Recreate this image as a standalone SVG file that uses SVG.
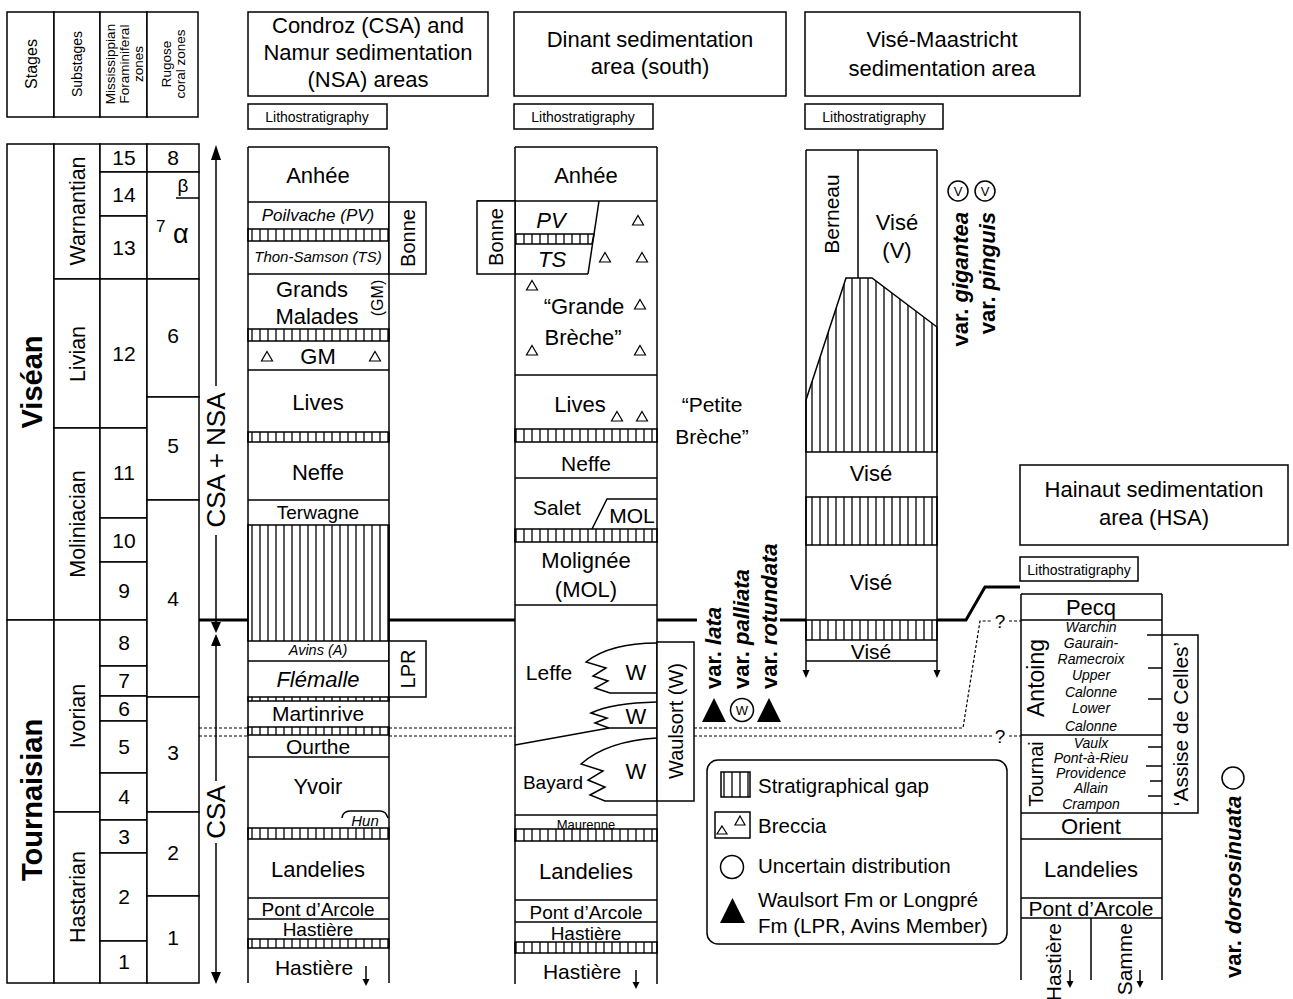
<svg xmlns="http://www.w3.org/2000/svg" width="1293" height="999" viewBox="0 0 1293 999">
<defs>
<pattern id="hp" width="8" height="10" patternUnits="userSpaceOnUse"><line x1="4" y1="-1" x2="4" y2="11" stroke="#000" stroke-width="1.3"/></pattern>
<path id="tri" d="M0,-5.5 L5.5,4 L-5.5,4 Z" fill="none" stroke="#000" stroke-width="1.2"/>
</defs>
<style>
text{font-family:"Liberation Sans",Arial,Helvetica,sans-serif;fill:#000}
.box{fill:#fff;stroke:#000;stroke-width:1.5}
.ln{fill:none;stroke:#000;stroke-width:1.5}
.hat{fill:url(#hp);stroke:#000;stroke-width:1.5}
.c{text-anchor:middle}
.i{font-style:italic}
.bd{font-weight:bold}
.thick{stroke:#000;stroke-width:3;fill:none}
.dash{stroke:#000;stroke-width:1.2;stroke-dasharray:3 2;fill:none}
.ar{fill:#000;stroke:none}
</style>
<rect x="0" y="0" width="1293" height="999" fill="#fff"/>

<g id="left-header">
<rect class="box" x="7" y="12" width="47" height="105"/>
<rect class="box" x="54" y="12" width="46" height="105"/>
<rect class="box" x="100" y="12" width="47" height="105"/>
<rect class="box" x="147" y="12" width="51" height="105"/>
<text class="c" font-size="16" transform="translate(31,64) rotate(-90)" dy=".35em">Stages</text>
<text class="c" font-size="14" transform="translate(77,64) rotate(-90)" dy=".35em">Substages</text>
<text class="c" font-size="13.5" transform="translate(110,64) rotate(-90)" dy=".35em">Mississippian</text>
<text class="c" font-size="13.5" transform="translate(124,64) rotate(-90)" dy=".35em">Foraminiferal</text>
<text class="c" font-size="13.5" transform="translate(138,64) rotate(-90)" dy=".35em">zones</text>
<text class="c" font-size="13.5" transform="translate(166,64) rotate(-90)" dy=".35em">Rugose</text>
<text class="c" font-size="13.5" transform="translate(180,64) rotate(-90)" dy=".35em">coral zones</text>
</g>

<g id="stages">
<rect class="box" x="7" y="144" width="47" height="476"/>
<rect class="box" x="7" y="620" width="47" height="363"/>
<text class="c bd" font-size="29" transform="translate(32,382) rotate(-90)" dy=".35em">Viséan</text>
<text class="c bd" font-size="29" transform="translate(32,800) rotate(-90)" dy=".35em">Tournaisian</text>
</g>

<g id="substages">
<rect class="box" x="54" y="144" width="46" height="135"/>
<rect class="box" x="54" y="279" width="46" height="149"/>
<rect class="box" x="54" y="428" width="46" height="192"/>
<rect class="box" x="54" y="620" width="46" height="192"/>
<rect class="box" x="54" y="812" width="46" height="171"/>
<text class="c" font-size="21.5" transform="translate(77,211) rotate(-90)" dy=".35em">Warnantian</text>
<text class="c" font-size="21.5" transform="translate(77,354) rotate(-90)" dy=".35em">Livian</text>
<text class="c" font-size="21.5" transform="translate(77,524) rotate(-90)" dy=".35em">Moliniacian</text>
<text class="c" font-size="21.5" transform="translate(77,716) rotate(-90)" dy=".35em">Ivorian</text>
<text class="c" font-size="21.5" transform="translate(77,897) rotate(-90)" dy=".35em">Hastarian</text>
</g>

<g id="foram-zones" font-size="21">
<rect class="box" x="100" y="144" width="47" height="28"/>
<rect class="box" x="100" y="172" width="47" height="44"/>
<rect class="box" x="100" y="216" width="47" height="63"/>
<rect class="box" x="100" y="279" width="47" height="149"/>
<rect class="box" x="100" y="428" width="47" height="90"/>
<rect class="box" x="100" y="518" width="47" height="44"/>
<rect class="box" x="100" y="562" width="47" height="58"/>
<rect class="box" x="100" y="620" width="47" height="46"/>
<rect class="box" x="100" y="666" width="47" height="30"/>
<rect class="box" x="100" y="696" width="47" height="25"/>
<rect class="box" x="100" y="721" width="47" height="52"/>
<rect class="box" x="100" y="773" width="47" height="47"/>
<rect class="box" x="100" y="820" width="47" height="33"/>
<rect class="box" x="100" y="853" width="47" height="88"/>
<rect class="box" x="100" y="941" width="47" height="42"/>
<text class="c" x="124" y="165">15</text>
<text class="c" x="124" y="202">14</text>
<text class="c" x="124" y="255">13</text>
<text class="c" x="124" y="361">12</text>
<text class="c" x="124" y="480">11</text>
<text class="c" x="124" y="548">10</text>
<text class="c" x="124" y="598">9</text>
<text class="c" x="124" y="650">8</text>
<text class="c" x="124" y="688">7</text>
<text class="c" x="124" y="716">6</text>
<text class="c" x="124" y="754">5</text>
<text class="c" x="124" y="804">4</text>
<text class="c" x="124" y="844">3</text>
<text class="c" x="124" y="904">2</text>
<text class="c" x="124" y="969">1</text>
</g>

<g id="rugose-zones" font-size="21">
<rect class="box" x="147" y="144" width="52" height="28"/>
<rect class="box" x="147" y="172" width="52" height="107"/>
<rect class="box" x="147" y="279" width="52" height="118"/>
<rect class="box" x="147" y="397" width="52" height="103"/>
<rect class="box" x="147" y="500" width="52" height="197"/>
<rect class="box" x="147" y="697" width="52" height="115"/>
<rect class="box" x="147" y="812" width="52" height="84"/>
<rect class="box" x="147" y="896" width="52" height="87"/>
<line class="ln" x1="176" y1="198" x2="199" y2="198"/>
<text class="c" x="173" y="165">8</text>
<text class="c" x="183" y="192" font-size="19">β</text>
<text x="156" y="232" font-size="17">7</text>
<text x="173" y="243" font-size="27">α</text>
<text class="c" x="173" y="343">6</text>
<text class="c" x="173" y="453">5</text>
<text class="c" x="173" y="606">4</text>
<text class="c" x="173" y="760">3</text>
<text class="c" x="173" y="860">2</text>
<text class="c" x="173" y="945">1</text>
</g>

<g id="area-arrows">
<polygon class="ar" points="216,145 211,160 221,160"/>
<line class="ln" x1="216" y1="158" x2="216" y2="386"/>
<text class="c" font-size="26" transform="translate(216,460) rotate(-90)" dy=".35em">CSA + NSA</text>
<line class="ln" x1="216" y1="535" x2="216" y2="623"/>
<polygon class="ar" points="211,622 221,622 216,633"/>
<polygon class="ar" points="216,634 211,646 221,646"/>
<line class="ln" x1="216" y1="645" x2="216" y2="781"/>
<text class="c" font-size="26" transform="translate(216,812) rotate(-90)" dy=".35em">CSA</text>
<line class="ln" x1="216" y1="843" x2="216" y2="973"/>
<polygon class="ar" points="211,972 221,972 216,984"/>
</g>

<g id="header-condroz">
<rect class="box" x="248" y="12" width="240" height="84"/>
<text class="c" x="368" y="33" font-size="22">Condroz (CSA) and</text>
<text class="c" x="368" y="60" font-size="22">Namur sedimentation</text>
<text class="c" x="368" y="87" font-size="22">(NSA) areas</text>
<rect class="box" x="248" y="104" width="139" height="25"/>
<text class="c" x="317" y="122" font-size="14">Lithostratigraphy</text>
</g>
<g id="header-dinant">
<rect class="box" x="514" y="12" width="272" height="84"/>
<text class="c" x="650" y="47" font-size="22">Dinant sedimentation</text>
<text class="c" x="650" y="74" font-size="22">area (south)</text>
<rect class="box" x="514" y="104" width="139" height="25"/>
<text class="c" x="583" y="122" font-size="14">Lithostratigraphy</text>
</g>
<g id="header-vise">
<rect class="box" x="805" y="12" width="275" height="84"/>
<text class="c" x="942" y="47" font-size="22">Visé-Maastricht</text>
<text class="c" x="942" y="76" font-size="22">sedimentation area</text>
<rect class="box" x="805" y="104" width="138" height="25"/>
<text class="c" x="874" y="122" font-size="14">Lithostratigraphy</text>
</g>
<g id="header-hainaut">
<rect class="box" x="1020" y="465" width="268" height="80"/>
<text class="c" x="1154" y="497" font-size="22">Hainaut sedimentation</text>
<text class="c" x="1154" y="525" font-size="22">area (HSA)</text>
<rect class="box" x="1020" y="557" width="118" height="24"/>
<text class="c" x="1079" y="575" font-size="14">Lithostratigraphy</text>
</g>

<g id="col-condroz">
<line class="ln" x1="248" y1="147" x2="248" y2="983"/>
<line class="ln" x1="389" y1="147" x2="389" y2="983"/>
<line class="ln" x1="248" y1="147" x2="389" y2="147"/>
<line class="ln" x1="248" y1="202" x2="389" y2="202"/>
<rect class="hat" x="248" y="229" width="141" height="12"/>
<line class="ln" x1="248" y1="274" x2="389" y2="274"/>
<rect class="hat" x="248" y="329" width="141" height="12"/>
<line class="ln" x1="248" y1="370" x2="389" y2="370"/>
<rect class="hat" x="248" y="432" width="141" height="10"/>
<line class="ln" x1="248" y1="500" x2="389" y2="500"/>
<rect class="hat" x="248" y="525" width="141" height="116"/>
<line class="ln" x1="248" y1="661" x2="389" y2="661"/>
<rect class="hat" x="248" y="697" width="141" height="4"/>
<rect class="hat" x="248" y="727" width="141" height="8"/>
<line class="ln" x1="248" y1="757" x2="389" y2="757"/>
<rect class="hat" x="248" y="828" width="141" height="11"/>
<line class="ln" x1="248" y1="898" x2="389" y2="898"/>
<line class="ln" x1="248" y1="919" x2="389" y2="919"/>
<rect class="hat" x="248" y="939" width="141" height="9"/>
<text class="c" x="318" y="183" font-size="22">Anhée</text>
<text class="c i" x="318" y="221" font-size="17">Poilvache (PV)</text>
<text class="c i" x="318" y="262" font-size="15">Thon-Samson (TS)</text>
<text class="c" x="312" y="297" font-size="22">Grands</text>
<text class="c" x="317" y="324" font-size="22">Malades</text>
<text class="c" font-size="16" transform="translate(377,298) rotate(-90)" dy=".35em">(GM)</text>
<text class="c" x="318" y="364" font-size="22">GM</text>
<use href="#tri" x="267" y="357"/>
<use href="#tri" x="375" y="357"/>
<text class="c" x="318" y="410" font-size="22">Lives</text>
<text class="c" x="318" y="480" font-size="22">Neffe</text>
<text class="c" x="318" y="519" font-size="19">Terwagne</text>
<text class="c i" x="318" y="655" font-size="14.5">Avins (A)</text>
<text class="c i" x="318" y="687" font-size="22">Flémalle</text>
<text class="c" x="318" y="721" font-size="21">Martinrive</text>
<text class="c" x="318" y="754" font-size="21">Ourthe</text>
<text class="c" x="318" y="794" font-size="22">Yvoir</text>
<path class="ln" d="M342,818 Q343,811 350,811 L380,811 Q386,811 388,818"/>
<text class="c i" x="365" y="826" font-size="15">Hun</text>
<text class="c" x="318" y="877" font-size="22">Landelies</text>
<text class="c" x="318" y="916" font-size="19">Pont d’Arcole</text>
<text class="c" x="318" y="936" font-size="19">Hastière</text>
<text class="c" x="314" y="975" font-size="21">Hastière</text>
<line class="ln" x1="366" y1="966" x2="366" y2="980"/>
<polygon class="ar" points="362.5,979 369.5,979 366,986"/>
</g>
<g id="bonne-condroz">
<rect class="box" x="389" y="202" width="37" height="72"/>
<text class="c" font-size="20" transform="translate(408,238) rotate(-90)" dy=".35em">Bonne</text>
</g>
<g id="lpr-condroz">
<rect class="box" x="389" y="641" width="37" height="56"/>
<text class="c" font-size="20" transform="translate(408,669) rotate(-90)" dy=".35em">LPR</text>
</g>

<g id="col-dinant">
<line class="ln" x1="515" y1="147" x2="515" y2="984"/>
<line class="ln" x1="657" y1="147" x2="657" y2="984"/>
<line class="ln" x1="515" y1="147" x2="657" y2="147"/>
<line class="ln" x1="477" y1="201" x2="657" y2="201"/>
<polygon class="hat" points="515,234 594,234 592,244 515,244"/>
<line class="ln" x1="599" y1="201" x2="588" y2="274"/>
<line class="ln" x1="515" y1="274" x2="588" y2="274"/>
<line class="ln" x1="515" y1="375" x2="657" y2="375"/>
<rect class="hat" x="515" y="429" width="142" height="13"/>
<line class="ln" x1="515" y1="478" x2="657" y2="478"/>
<polyline class="ln" points="592,529 607,499 657,499"/>
<rect class="hat" x="515" y="529" width="142" height="13"/>
<line class="ln" x1="515" y1="605" x2="657" y2="605"/>
<path class="ln" d="M657,643 Q610,643 586,662 L606,668 L593,676 L608,681 L595,688 L610,693 L657,693"/>
<path class="ln" d="M657,702 Q612,703 591,713 L607,718 L595,723 L609,728"/>
<path class="ln" d="M515,745 L609,728 L657,728"/>
<path class="ln" d="M657,738 Q607,741 581,764 L603,771 L588,780 L605,787 L590,795 L605,801 L657,801"/>
<line class="ln" x1="515" y1="815" x2="657" y2="815"/>
<rect class="hat" x="515" y="829" width="142" height="12"/>
<line class="ln" x1="515" y1="900" x2="657" y2="900"/>
<line class="ln" x1="515" y1="922" x2="657" y2="922"/>
<rect class="hat" x="515" y="942" width="142" height="11"/>
<text class="c" x="586" y="183" font-size="22">Anhée</text>
<text class="c i" x="551" y="228" font-size="22">PV</text>
<text class="c i" x="552" y="267" font-size="22">TS</text>
<use href="#tri" x="638" y="221"/>
<use href="#tri" x="605" y="258"/>
<use href="#tri" x="642" y="258"/>
<use href="#tri" x="532" y="286"/>
<use href="#tri" x="640" y="305"/>
<use href="#tri" x="532" y="351"/>
<use href="#tri" x="640" y="351"/>
<text class="c" x="584" y="314" font-size="22">“Grande</text>
<text class="c" x="583" y="345" font-size="22">Brèche”</text>
<text class="c" x="580" y="412" font-size="22">Lives</text>
<use href="#tri" x="617" y="417"/>
<use href="#tri" x="642" y="417"/>
<text class="c" x="586" y="471" font-size="21">Neffe</text>
<text class="c" x="557" y="515" font-size="21">Salet</text>
<text class="c" x="632" y="523" font-size="21">MOL</text>
<text class="c" x="586" y="568" font-size="22">Molignée</text>
<text class="c" x="586" y="597" font-size="22">(MOL)</text>
<text class="c" x="549" y="680" font-size="21">Leffe</text>
<text class="c" x="636" y="680" font-size="22">W</text>
<text class="c" x="636" y="724" font-size="22">W</text>
<text class="c" x="553" y="789" font-size="19">Bayard</text>
<text class="c" x="636" y="779" font-size="22">W</text>
<text class="c" x="586" y="829" font-size="13">Maurenne</text>
<text class="c" x="586" y="879" font-size="22">Landelies</text>
<text class="c" x="586" y="919" font-size="19">Pont d’Arcole</text>
<text class="c" x="586" y="940" font-size="19">Hastière</text>
<text class="c" x="582" y="979" font-size="21">Hastière</text>
<line class="ln" x1="636" y1="970" x2="636" y2="983"/>
<polygon class="ar" points="632.5,982 639.5,982 636,989"/>
</g>
<g id="bonne-dinant">
<rect class="box" x="477" y="201" width="38" height="73"/>
<text class="c" font-size="20" transform="translate(496,237) rotate(-90)" dy=".35em">Bonne</text>
</g>
<g id="waulsort-dinant">
<rect class="box" x="657" y="642" width="37" height="159"/>
<text class="c" font-size="20" transform="translate(676,721) rotate(-90)" dy=".35em">Waulsort (W)</text>
</g>
<g id="petite-breche">
<text class="c" x="712" y="412" font-size="21">“Petite</text>
<text class="c" x="712" y="444" font-size="21">Brèche”</text>
</g>

<g id="col-vise">
<line class="ln" x1="806" y1="150" x2="806" y2="670"/>
<line class="ln" x1="937" y1="150" x2="937" y2="670"/>
<line class="ln" x1="806" y1="150" x2="937" y2="150"/>
<line class="ln" x1="858" y1="150" x2="858" y2="278"/>
<polygon class="hat" points="806,400 846,278 872,278 937,327 937,452 806,452"/>
<rect class="hat" x="806" y="497" width="131" height="48"/>
<rect class="hat" x="806" y="620" width="131" height="20"/>
<line class="ln" x1="806" y1="661" x2="937" y2="661"/>
<polygon class="ar" points="802.5,670 809.5,670 806,678"/>
<polygon class="ar" points="933.5,670 940.5,670 937,678"/>
<text class="c" font-size="21" transform="translate(832,214) rotate(-90)" dy=".35em">Berneau</text>
<text class="c" x="897" y="230" font-size="22">Visé</text>
<text class="c" x="897" y="258" font-size="22">(V)</text>
<text class="c" x="871" y="481" font-size="22">Visé</text>
<text class="c" x="871" y="590" font-size="22">Visé</text>
<text class="c" x="871" y="659" font-size="21">Visé</text>
</g>

<g id="col-hainaut">
<line class="ln" x1="1021" y1="594" x2="1021" y2="980"/>
<line class="ln" x1="1162" y1="594" x2="1162" y2="980"/>
<line class="ln" x1="1021" y1="594" x2="1162" y2="594"/>
<line class="ln" x1="1021" y1="620" x2="1162" y2="620"/>
<line class="ln" x1="1021" y1="735" x2="1162" y2="735"/>
<line class="ln" x1="1021" y1="813" x2="1162" y2="813"/>
<line class="ln" x1="1021" y1="839" x2="1162" y2="839"/>
<line class="ln" x1="1021" y1="898" x2="1162" y2="898"/>
<line class="ln" x1="1021" y1="918" x2="1162" y2="918"/>
<line class="ln" x1="1091" y1="918" x2="1091" y2="980"/>
<line class="ln" x1="1148" y1="668" x2="1162" y2="668"/>
<line class="ln" x1="1148" y1="699" x2="1162" y2="699"/>
<line class="ln" x1="1148" y1="747" x2="1162" y2="747"/>
<line class="ln" x1="1146" y1="766" x2="1162" y2="766"/>
<line class="ln" x1="1150" y1="781" x2="1162" y2="781"/>
<line class="ln" x1="1148" y1="796" x2="1162" y2="796"/>
<text class="c" x="1091" y="615" font-size="22">Pecq</text>
<text class="c" font-size="23" transform="translate(1036,678) rotate(-90)" dy=".35em">Antoing</text>
<text class="c" font-size="20" transform="translate(1036,774) rotate(-90)" dy=".35em">Tournai</text>
<g class="i" font-size="14">
<text class="c" x="1091" y="632">Warchin</text>
<text class="c" x="1091" y="648">Gaurain-</text>
<text class="c" x="1091" y="664">Ramecroix</text>
<text class="c" x="1091" y="680">Upper</text>
<text class="c" x="1091" y="697">Calonne</text>
<text class="c" x="1091" y="713">Lower</text>
<text class="c" x="1091" y="731">Calonne</text>
<text class="c" x="1091" y="748">Vaulx</text>
<text class="c" x="1091" y="763">Pont-à-Rieu</text>
<text class="c" x="1091" y="778">Providence</text>
<text class="c" x="1091" y="793">Allain</text>
<text class="c" x="1091" y="809">Crampon</text>
</g>
<text class="c" x="1091" y="834" font-size="22">Orient</text>
<text class="c" x="1091" y="877" font-size="22">Landelies</text>
<text class="c" x="1091" y="916" font-size="21">Pont d’Arcole</text>
<text font-size="21" text-anchor="end" transform="translate(1054,923) rotate(-90)" dy=".35em">Hastière</text>
<text font-size="21" text-anchor="end" transform="translate(1125,923) rotate(-90)" dy=".35em">Samme</text>
<line class="ln" x1="1070" y1="970" x2="1070" y2="982"/>
<polygon class="ar" points="1066.5,981 1073.5,981 1070,988"/>
<line class="ln" x1="1140" y1="970" x2="1140" y2="982"/>
<polygon class="ar" points="1136.5,981 1143.5,981 1140,988"/>
</g>
<g id="assise-de-celles">
<polyline class="ln" points="1147,635 1198,635 1198,813 1162,813"/>
<text class="c" font-size="21" transform="translate(1181,724) rotate(-90)" dy=".35em">‘Assise de Celles’</text>
</g>

<g id="varieties">
<text class="bd" font-size="22" transform="translate(713,689) rotate(-90)" dy=".35em">var. <tspan class="i">lata</tspan></text>
<text class="bd" font-size="22" transform="translate(741,689) rotate(-90)" dy=".35em">var. <tspan class="i">palliata</tspan></text>
<text class="bd" font-size="22" transform="translate(769,689) rotate(-90)" dy=".35em">var. <tspan class="i">rotundata</tspan></text>
<polygon points="702,722 726,722 714,698" fill="#000"/>
<circle cx="742" cy="710" r="11.5" fill="none" stroke="#000" stroke-width="1.5"/>
<text class="c" x="742" y="715" font-size="13">W</text>
<polygon points="757,722 781,722 769,698" fill="#000"/>
<text class="bd" font-size="22" text-anchor="end" transform="translate(960,212) rotate(-90)" dy=".35em">var. <tspan class="i">gigantea</tspan></text>
<text class="bd" font-size="22" text-anchor="end" transform="translate(987,212) rotate(-90)" dy=".35em">var. <tspan class="i">pinguis</tspan></text>
<circle cx="958" cy="191" r="10" fill="none" stroke="#000" stroke-width="1.5"/>
<text class="c" x="958" y="196" font-size="13">V</text>
<circle cx="985" cy="191" r="10" fill="none" stroke="#000" stroke-width="1.5"/>
<text class="c" x="985" y="196" font-size="13">V</text>
<text class="bd" font-size="22" transform="translate(1233,978) rotate(-90)" dy=".35em">var. <tspan class="i">dorsosinuata</tspan></text>
<circle cx="1233" cy="778" r="11" fill="none" stroke="#000" stroke-width="1.5"/>
</g>

<g id="legend">
<rect x="707" y="760" width="300" height="184" rx="11" fill="#fff" stroke="#000" stroke-width="1.5"/>
<rect class="hat" x="721" y="772" width="29" height="25"/>
<text x="758" y="793" font-size="20.5">Stratigraphical gap</text>
<rect class="box" x="715" y="812" width="35" height="26"/>
<path d="M722,826 L727,834 L717,834 Z M740,816 L745,825 L735,825 Z" fill="none" stroke="#000" stroke-width="1.2"/>
<text x="758" y="833" font-size="20.5">Breccia</text>
<circle cx="732" cy="867" r="11.5" fill="none" stroke="#000" stroke-width="1.5"/>
<text x="758" y="873" font-size="20.5">Uncertain distribution</text>
<polygon points="720,923 745,923 732.5,898" fill="#000"/>
<text x="758" y="907" font-size="20.5">Waulsort Fm or Longpré</text>
<text x="758" y="933" font-size="20.5">Fm (LPR, Avins Member)</text>
</g>

<g id="connectors">
<path class="thick" d="M199,620 H248 M389,620 H515 M657,620 H697 M780,620 H806 M937,620 H966 L985,587 H1020"/>
<path class="dash" d="M199,728 H248 M389,728 H515 M694,728 H963 L980,621 H992 M1009,621 H1021"/>
<path class="dash" d="M199,736 H248 M389,736 H515 M694,736 H992 M1009,736 H1021"/>
<text class="c" x="1000" y="628" font-size="19">?</text>
<text class="c" x="1000" y="743" font-size="19">?</text>
</g>
</svg>
